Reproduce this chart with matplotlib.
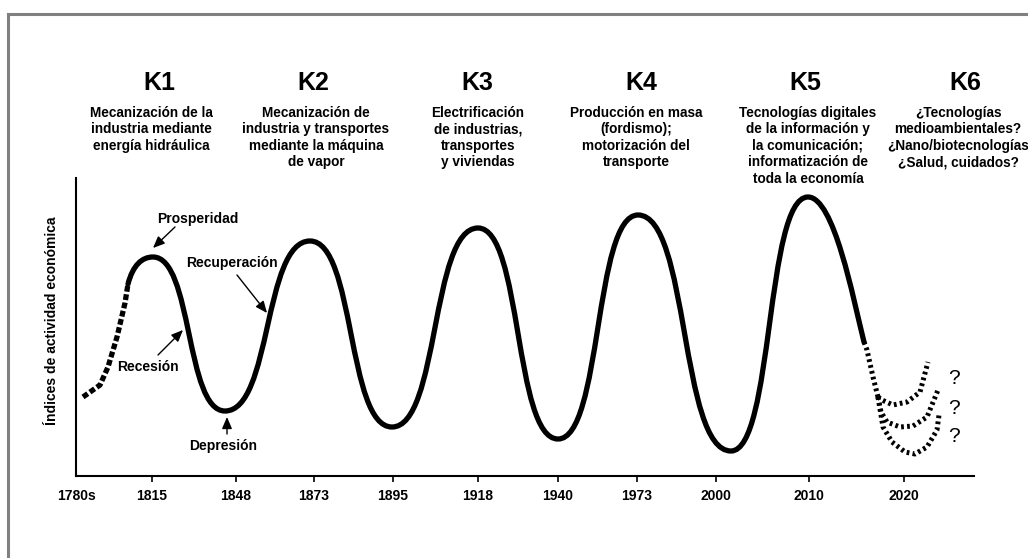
import matplotlib
matplotlib.use('Agg')
import matplotlib.pyplot as plt
import matplotlib.patches as mpatches
from matplotlib.path import Path
from matplotlib.lines import Line2D

plt.rcParams['font.family'] = ['Liberation Sans', 'DejaVu Sans']

W, H = 1028, 558

# Ondas largas de Kondratiev: picos y valles (posición en el eje, nivel)
ciclo_pos = [77, 149, 234, 316, 402, 482, 562, 655, 732]
ciclo_nivel = [219, 65, 235, 49, 248, 37, 261, 25, 279]

# tramo inicial (discontinuo, antes de K1)
inicio_pos = [7, 24, 32, 41, 49, 52]
inicio_nivel = [79, 91, 109, 139, 173, 192]

# fin del tramo continuo tras K5 y tronco punteado
fin_pos, fin_nivel = 788, 134
tronco_pos = [788, 791, 797, 802]
tronco_nivel = [134, 126, 99, 79]

# escenarios futuros (punteados)
esc_alto_pos = [802, 806, 817, 831, 844, 852]
esc_alto_nivel = [79, 76, 71, 74, 84, 114]
esc_medio_pos = [802, 805, 811, 824, 837, 851, 862]
esc_medio_nivel = [79, 64, 54, 49, 50, 59, 86]
esc_bajo_pos = [802, 807, 816, 829, 839, 851, 861, 863]
esc_bajo_nivel = [79, 49, 34, 24, 22, 29, 46, 61]

# eje horizontal
decadas = ['1780s', '1815', '1848', '1873', '1895', '1918', '1940',
           '1973', '2000', '2010', '2020']
pos_decadas = [0, 76, 160, 238, 317, 402, 482, 561, 640, 733, 828]

# ondas K1..K6
ondas = ['K1', 'K2', 'K3', 'K4', 'K5', 'K6']
descripciones = [
    "Mecanización de la\nindustria mediante\nenergía hidráulica",
    "Mecanización de\nindustria y transportes\nmediante la máquina\nde vapor",
    "Electrificación\nde industrias,\ntransportes\ny viviendas",
    "Producción en masa\n(fordismo);\nmotorización del\ntransporte",
    "Tecnologías digitales\nde la información y\nla comunicación;\ninformatización de\ntoda la economía",
    "¿Tecnologías\nmedioambientales?\n¿Nano/biotecnologías\n¿Salud, cuidados?",
]
x_ondas = [159, 313, 477, 641, 805, 965]
x_desc = [151, 316, 478, 636, 808, 958]


def fpx(x, y):
    """pixeles de la imagen -> fracción de figura"""
    return x / W, 1 - y / H


fig = plt.figure(figsize=(W / 100, H / 100), dpi=100)
ax = fig.add_axes([76 / W, (H - 476) / H, 898 / W, 298 / H])
ax.set_xlim(0, 898)
ax.set_ylim(0, 298)

# curva principal: bezier entre picos y valles
verts = [(inicio_pos[-1], inicio_nivel[-1]), (57, 211), (66, ciclo_nivel[0]),
         (ciclo_pos[0], ciclo_nivel[0])]
codes = [Path.MOVETO] + [Path.CURVE4] * 3
for i in range(len(ciclo_pos) - 1):
    x0, y0 = ciclo_pos[i], ciclo_nivel[i]
    x1, y1 = ciclo_pos[i + 1], ciclo_nivel[i + 1]
    d = (x1 - x0) * 0.55
    verts += [(x0 + d, y0), (x1 - d, y1), (x1, y1)]
    codes += [Path.CURVE4] * 3
verts += [(758, ciclo_nivel[-1]), (777, 178), (fin_pos, fin_nivel)]
codes += [Path.CURVE4] * 3
ax.add_patch(mpatches.PathPatch(Path(verts, codes), facecolor='none',
                                edgecolor='black', lw=3.8, capstyle='round',
                                joinstyle='round'))

ax.plot(inicio_pos, inicio_nivel, color='black', lw=3.8,
        linestyle=(0, (1.1, 0.5)), dash_capstyle='butt')
for xs, ys in [(tronco_pos, tronco_nivel), (esc_alto_pos, esc_alto_nivel),
               (esc_medio_pos, esc_medio_nivel), (esc_bajo_pos, esc_bajo_nivel)]:
    ax.plot(xs, ys, color='black', lw=3.6, linestyle=(0, (0.55, 0.65)),
            dash_capstyle='butt')

for y in [378, 409, 437]:
    fig.text(*fpx(954, y), '?', fontsize=15, ha='center', va='center')

# anotaciones de las fases
flecha = dict(arrowstyle='-|>,head_length=0.7,head_width=0.3', lw=1,
              color='black', shrinkA=0, shrinkB=0)
fases = [
    ('Prosperidad', (122, 257), (99, 249), (77, 228)),
    ('Recuperación', (156, 213), (161, 201), (191, 163)),
    ('Recesión', (72, 109), (82, 121), (107, 146)),
    ('Depresión', (147, 30), (151, 42), (151, 59)),
]
for txt, pt, cola, punta in fases:
    ax.text(*pt, txt, fontsize=10, fontweight='bold', ha='center',
            va='center')
    ax.annotate('', xy=punta, xytext=cola, arrowprops=flecha)

# ejes
for s in ['top', 'right']:
    ax.spines[s].set_visible(False)
for s in ['left', 'bottom']:
    ax.spines[s].set_linewidth(1.5)
ax.set_yticks([])
ax.set_xticks(pos_decadas)
ax.set_xticklabels(decadas, fontsize=10, fontweight='bold')
ax.tick_params(axis='x', length=4.5, width=1.2, pad=5)
ax.xaxis.get_major_ticks()[0].tick1line.set_visible(False)

fig.text(*fpx(52, 321), 'Índices de actividad económica', rotation=90,
         fontsize=10, fontweight='bold', ha='center', va='center')

# títulos de las ondas
for k, xk, d, xd in zip(ondas, x_ondas, descripciones, x_desc):
    fig.text(*fpx(xk, 83), k, fontsize=18, fontweight='bold',
             ha='center', va='center')
    fig.text(*fpx(xd, 106), d, fontsize=9.8, fontweight='bold', ha='center',
             va='top', multialignment='center', linespacing=1.22)

# marco gris
fig.add_artist(Line2D([8 / W, 8 / W], [0, 1 - 14 / H], color='#808080',
                      lw=2.2, transform=fig.transFigure))
fig.add_artist(Line2D([8 / W, 1], [1 - 14 / H, 1 - 14 / H], color='#808080',
                      lw=2.2, transform=fig.transFigure))

fig.savefig('out.png', dpi=100)
